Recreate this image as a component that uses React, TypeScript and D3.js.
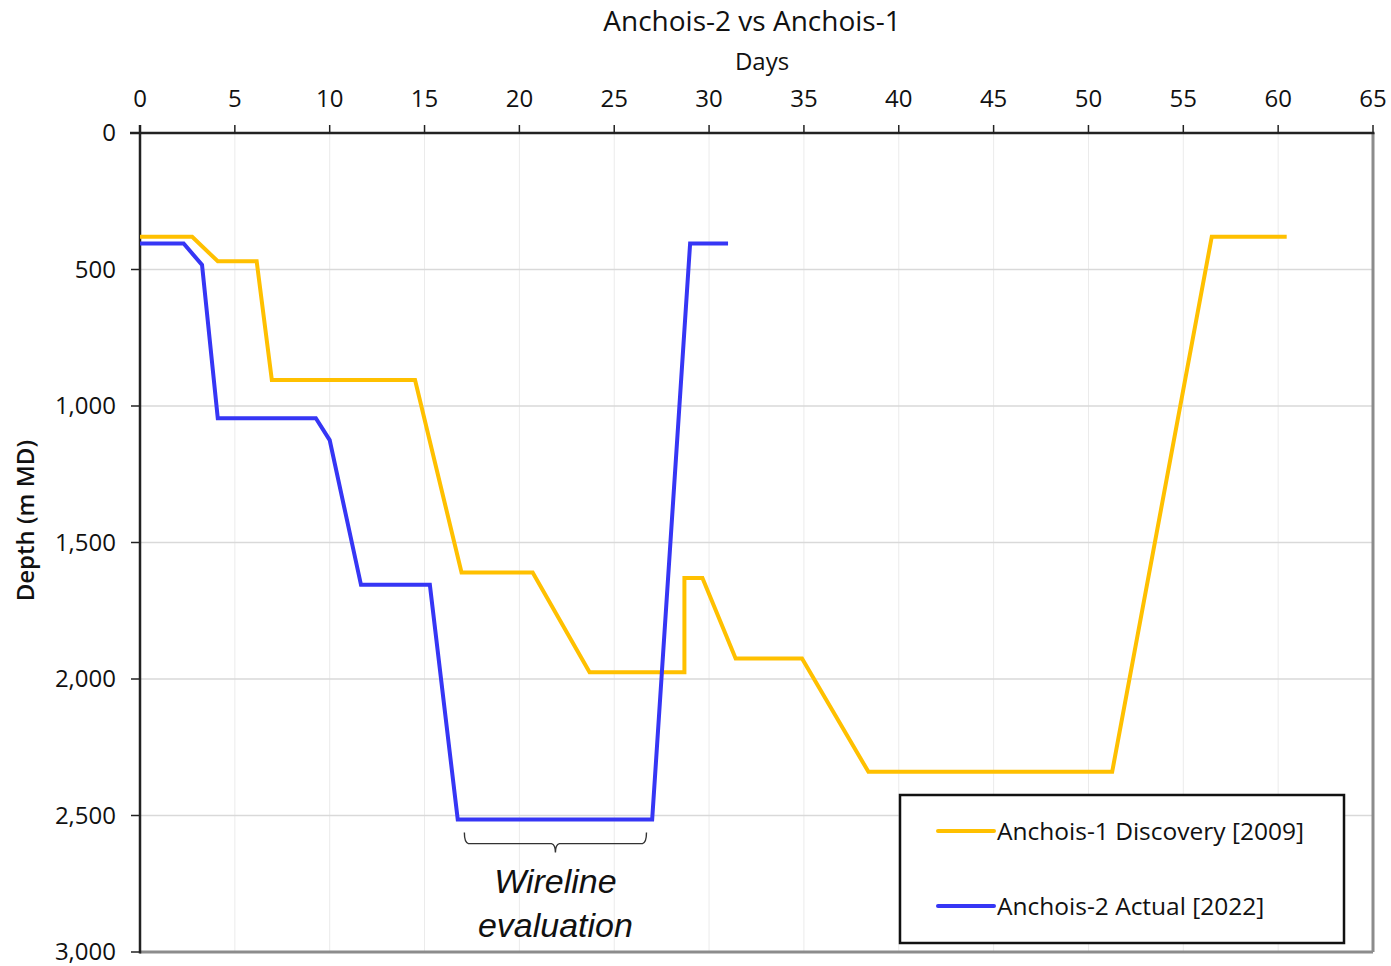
import React from 'react';
import { scaleLinear, line, format } from 'd3';

const width = 1391;
const height = 966;
const margin = { top: 133, right: 18, bottom: 14, left: 140 };
const innerWidth = width - margin.left - margin.right;
const innerHeight = height - margin.top - margin.bottom;

const dayTicks = [0, 5, 10, 15, 20, 25, 30, 35, 40, 45, 50, 55, 60, 65];
const depthTicks = [0, 500, 1000, 1500, 2000, 2500, 3000];

// Anchois-1 Discovery [2009]
const a1Days = [0, 2.75, 4.1, 6.15, 6.95, 14.5, 16.95, 20.7, 23.7, 28.7, 28.7, 29.65, 31.4, 34.9, 38.4, 51.25, 56.5, 60.45];
const a1Depth = [380, 380, 470, 470, 905, 905, 1610, 1610, 1975, 1975, 1630, 1630, 1925, 1925, 2340, 2340, 380, 380];

// Anchois-2 Actual [2022]
const a2Days = [0, 2.3, 3.27, 4.1, 9.27, 10.0, 11.65, 15.28, 16.75, 27.0, 29.0, 31.0];
const a2Depth = [405, 405, 483, 1045, 1045, 1125, 1655, 1655, 2515, 2515, 405, 405];

const wireline = { from: 17.1, to: 26.7, depth: 2515 };

const yellow = '#FFC000';
const blue = '#3636F5';
const font = '"Open Sans", sans-serif';

function App() {
  const xScale = scaleLinear().domain([0, 65]).range([0, innerWidth]);
  const yScale = scaleLinear().domain([0, 3000]).range([0, innerHeight]);
  const fmt = format(',');

  const path = line<[number, number]>()
    .x(d => xScale(d[0]))
    .y(d => yScale(d[1]));

  const a1 = a1Days.map((d, i) => [d, a1Depth[i]] as [number, number]);
  const a2 = a2Days.map((d, i) => [d, a2Depth[i]] as [number, number]);

  const bx0 = xScale(wireline.from);
  const bx1 = xScale(wireline.to);
  const bm = (bx0 + bx1) / 2;
  const by = yScale(wireline.depth) + 13;

  return (
    <svg width={width} height={height} style={{ position: 'absolute', left: 0, top: 0, background: '#fff' }}>
      <text x={752} y={31} textAnchor="middle" fontFamily={font} fontSize={28} fill="#111">Anchois-2 vs Anchois-1</text>
      <text x={762} y={70} textAnchor="middle" fontFamily={font} fontSize={24} fill="#111">Days</text>
      <text transform={`translate(34, ${margin.top + yScale(1420)}) rotate(-90)`} textAnchor="middle"
        fontFamily={font} fontSize={24} fontWeight={600} fill="#111">Depth (m MD)</text>
      <g transform={`translate(${margin.left}, ${margin.top})`}>
        {dayTicks.slice(1, -1).map(t => (
          <line key={'gx' + t} x1={xScale(t)} x2={xScale(t)} y1={0} y2={innerHeight} stroke="#ebebeb" strokeWidth={1} />
        ))}
        {depthTicks.slice(1, -1).map(t => (
          <line key={'gy' + t} x1={0} x2={innerWidth} y1={yScale(t)} y2={yScale(t)} stroke="#d9d9d9" strokeWidth={1.3} />
        ))}
        <line x1={innerWidth} x2={innerWidth} y1={0} y2={innerHeight} stroke="#8c8c8c" strokeWidth={3} />
        <line x1={0} x2={innerWidth} y1={innerHeight} y2={innerHeight} stroke="#8c8c8c" strokeWidth={3} />
        <line x1={-10} x2={innerWidth + 1.5} y1={0} y2={0} stroke="#222" strokeWidth={2.5} />
        <line x1={0} x2={0} y1={-8} y2={innerHeight + 1.5} stroke="#222" strokeWidth={2.5} />
        {dayTicks.map(t => (
          <g key={'tx' + t} transform={`translate(${xScale(t)}, 0)`}>
            <line y1={0} y2={-8} stroke="#222" strokeWidth={1.5} />
            <text y={-26.5} textAnchor="middle" fontFamily={font} fontSize={24} fill="#111">{t}</text>
          </g>
        ))}
        {depthTicks.map(t => (
          <g key={'ty' + t} transform={`translate(0, ${yScale(t)})`}>
            <line x1={0} x2={-9} stroke="#222" strokeWidth={1.5} />
            <text x={-24} dy="0.35em" textAnchor="end" fontFamily={font} fontSize={24} fill="#111">{fmt(t)}</text>
          </g>
        ))}
        <path d={path(a1)!} fill="none" stroke={yellow} strokeWidth={4} strokeLinejoin="miter" />
        <path d={path(a2)!} fill="none" stroke={blue} strokeWidth={4} strokeLinejoin="miter" />
        <path d={`M${bx0},${by} q0,${10} 4,${11} L${bm - 4},${by + 11} q4,1 4,${9} q0,-8 4,-9 L${bx1 - 4},${by + 11} q4,-1 4,-11`}
          fill="none" stroke="#333" strokeWidth={1.4} />
        <text x={bm} y={by + 60} textAnchor="middle" fontFamily='"Liberation Sans", Arial, sans-serif' fontStyle="italic" fontSize={34} fill="#111">Wireline</text>
        <text x={bm} y={by + 104} textAnchor="middle" fontFamily='"Liberation Sans", Arial, sans-serif' fontStyle="italic" fontSize={34} fill="#111">evaluation</text>
      </g>
      <g transform="translate(900, 795)">
        <rect x={0} y={0} width={444} height={148} fill="#fff" stroke="#111" strokeWidth={2.5} />
        <line x1={38} x2={94} y1={36} y2={36} stroke={yellow} strokeWidth={4} strokeLinecap="round" />
        <text x={97} y={36} dy="0.35em" fontFamily={font} fontSize={24.5} fill="#111">Anchois-1 Discovery [2009]</text>
        <line x1={38} x2={94} y1={111} y2={111} stroke={blue} strokeWidth={4} strokeLinecap="round" />
        <text x={97} y={111} dy="0.35em" fontFamily={font} fontSize={24.5} fill="#111">Anchois-2 Actual [2022]</text>
      </g>
    </svg>
  );
}

export default App;
